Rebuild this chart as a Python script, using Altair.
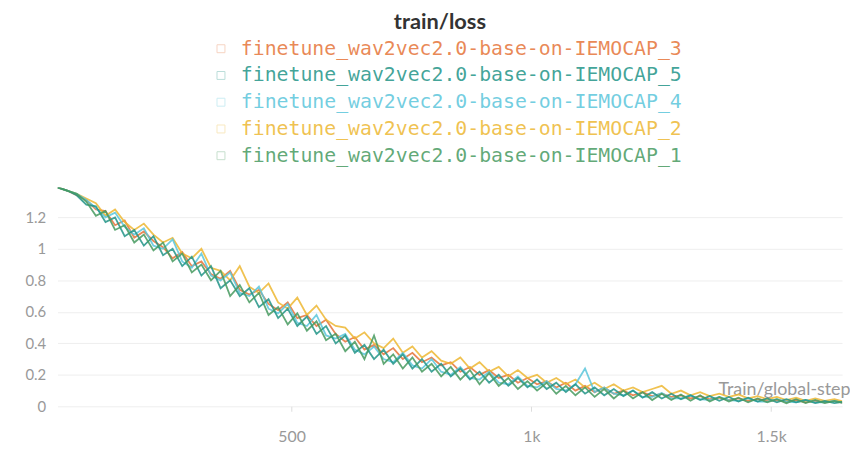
import altair as alt
import pandas as pd

steps = list(range(12, 1673, 20))

run_names = [
    "finetune_wav2vec2.0-base-on-IEMOCAP_3",
    "finetune_wav2vec2.0-base-on-IEMOCAP_5",
    "finetune_wav2vec2.0-base-on-IEMOCAP_4",
    "finetune_wav2vec2.0-base-on-IEMOCAP_2",
    "finetune_wav2vec2.0-base-on-IEMOCAP_1",
]
run_colors = ["#E57439", "#229487", "#5BC5DB", "#EDB732", "#479A5F"]

loss_1 = [1.39,1.37,1.35,1.30,1.21,1.24,1.12,1.15,1.04,1.09,
          0.99,1.04,0.92,0.97,0.85,0.90,0.80,0.86,0.70,0.77,
          0.66,0.72,0.58,0.63,0.52,0.59,0.48,0.54,0.42,0.46,
          0.35,0.41,0.30,0.45,0.27,0.33,0.24,0.31,0.22,0.27,
          0.19,0.25,0.17,0.23,0.14,0.21,0.13,0.18,0.11,0.16,
          0.10,0.15,0.08,0.13,0.07,0.12,0.06,0.11,0.05,0.10,
          0.05,0.09,0.04,0.08,0.04,0.075,0.035,0.07,0.03,0.06,
          0.03,0.055,0.025,0.05,0.025,0.045,0.02,0.045,0.02,0.04,
          0.02,0.035,0.02,0.03]
loss_5 = [1.39,1.37,1.34,1.28,1.27,1.17,1.20,1.08,1.12,1.02,
          1.08,0.96,1.00,0.89,0.95,0.83,0.89,0.75,0.80,0.70,
          0.75,0.63,0.68,0.56,0.62,0.51,0.57,0.46,0.51,0.40,
          0.45,0.34,0.39,0.30,0.36,0.27,0.33,0.24,0.30,0.22,
          0.27,0.19,0.24,0.17,0.22,0.15,0.20,0.13,0.18,0.12,
          0.17,0.11,0.15,0.09,0.14,0.08,0.12,0.07,0.11,0.065,
          0.10,0.055,0.09,0.05,0.08,0.045,0.07,0.04,0.065,0.035,
          0.06,0.03,0.055,0.03,0.05,0.025,0.045,0.025,0.04,0.02,
          0.035,0.02,0.03,0.02]
loss_4 = [1.39,1.37,1.35,1.31,1.26,1.20,1.23,1.14,1.09,1.13,
          1.02,1.00,1.06,0.92,0.88,0.97,0.83,0.80,0.85,0.72,
          0.70,0.76,0.62,0.59,0.65,0.53,0.51,0.58,0.45,0.43,
          0.46,0.36,0.33,0.38,0.30,0.28,0.34,0.26,0.24,0.30,
          0.22,0.20,0.25,0.18,0.17,0.22,0.15,0.14,0.19,0.13,
          0.12,0.16,0.11,0.10,0.14,0.24,0.09,0.12,0.08,0.07,
          0.10,0.06,0.06,0.085,0.05,0.05,0.07,0.045,0.04,0.06,
          0.04,0.035,0.05,0.03,0.03,0.045,0.03,0.025,0.04,0.025,
          0.025,0.035,0.02,0.025]
loss_2 = [1.39,1.37,1.35,1.32,1.29,1.21,1.25,1.17,1.12,1.16,
          1.09,1.04,1.07,0.97,0.94,1.00,0.88,0.86,0.80,0.89,
          0.76,0.72,0.78,0.66,0.62,0.69,0.58,0.64,0.55,0.51,
          0.50,0.43,0.47,0.40,0.37,0.43,0.34,0.38,0.31,0.35,
          0.29,0.27,0.31,0.24,0.28,0.22,0.25,0.19,0.23,0.18,
          0.20,0.15,0.18,0.14,0.17,0.12,0.15,0.11,0.14,0.10,
          0.12,0.09,0.11,0.13,0.08,0.10,0.07,0.09,0.065,0.08,
          0.06,0.075,0.05,0.065,0.045,0.06,0.04,0.055,0.035,0.05,
          0.035,0.045,0.03,0.04]
loss_3 = [1.39,1.37,1.34,1.31,1.25,1.24,1.15,1.18,1.07,1.11,
          1.05,1.01,0.94,0.98,0.89,0.92,0.84,0.81,0.86,0.74,
          0.71,0.74,0.65,0.61,0.66,0.56,0.58,0.51,0.55,0.46,
          0.41,0.44,0.36,0.39,0.33,0.37,0.30,0.34,0.28,0.31,
          0.26,0.28,0.22,0.25,0.20,0.23,0.18,0.20,0.15,0.18,
          0.14,0.16,0.12,0.15,0.10,0.13,0.09,0.12,0.08,0.10,
          0.07,0.09,0.065,0.08,0.06,0.07,0.05,0.065,0.045,0.055,
          0.04,0.05,0.035,0.045,0.035,0.04,0.03,0.04,0.025,0.035,
          0.025,0.035,0.02,0.03]

# drawing order: green on top
series = [(run_names[0], loss_3), (run_names[3], loss_2), (run_names[2], loss_4),
          (run_names[1], loss_5), (run_names[4], loss_1)]
rows = []
for order, (name, vals) in enumerate(series):
    for s, v in zip(steps, vals):
        rows.append({"step": s, "loss": v, "run": name, "ord": order})
df = pd.DataFrame(rows)

FONT = "Lato"

x_label_expr = ("datum.value >= 1000 ? format(datum.value / 1000, '~g') + 'k' "
                ": format(datum.value, '~g')")

chart = alt.Chart(df).mark_line(strokeWidth=1.8, opacity=0.85, clip=True).encode(
    x=alt.X("step:Q",
            scale=alt.Scale(domain=[12, 1648], nice=False, zero=False),
            axis=alt.Axis(values=[500, 1000, 1500], labelExpr=x_label_expr,
                          grid=False, domain=False, ticks=True, tickSize=5,
                          tickColor="#dddddd", labelColor="#999999",
                          labelFontSize=16, labelFont=FONT, labelPadding=18,
                          title="Train/global-step", titleFont=FONT,
                          titleFontSize=18, titleFontWeight="normal",
                          titleColor="#999999", titleAnchor="end",
                          titleAlign="right", titleBaseline="bottom",
                          titleX=800, titleY=-8)),
    y=alt.Y("loss:Q",
            scale=alt.Scale(domain=[0, 1.39], nice=False),
            axis=alt.Axis(values=[0, 0.2, 0.4, 0.6, 0.8, 1.0, 1.2], format="~g",
                          grid=True, gridColor="#eeeeee", domain=False,
                          ticks=False, labelColor="#999999", labelFontSize=15,
                          labelFont=FONT, labelPadding=12, minExtent=45,
                          maxExtent=45, title=None)),
    color=alt.Color("run:N",
                    scale=alt.Scale(domain=run_names, range=run_colors),
                    legend=alt.Legend(orient="none", legendX=155, legendY=-150,
                                      title=None, direction="vertical",
                                      symbolType="square", symbolSize=64,
                                      symbolStrokeWidth=1, symbolOpacity=0.3,
                                      labelFont="DejaVu Sans Mono",
                                      labelFontSize=20, labelLimit=0,
                                      labelOffset=10, rowPadding=7, padding=0,
                                      labelOpacity=0.85,
                                      labelColor=alt.ExprRef("scale('color', datum.value)"))),
    order=alt.Order("ord:Q"),
).properties(
    width=792, height=221,
    title=alt.TitleParams("train/loss", font=FONT, fontSize=22, fontWeight="bold",
                          color="#333333", anchor="middle", offset=5, dx=-10),
    padding={"left": 5, "top": 1, "right": 0, "bottom": 5},
).configure_view(stroke=None)

chart.save("out.html", embed_options={"renderer": "svg", "actions": False})
